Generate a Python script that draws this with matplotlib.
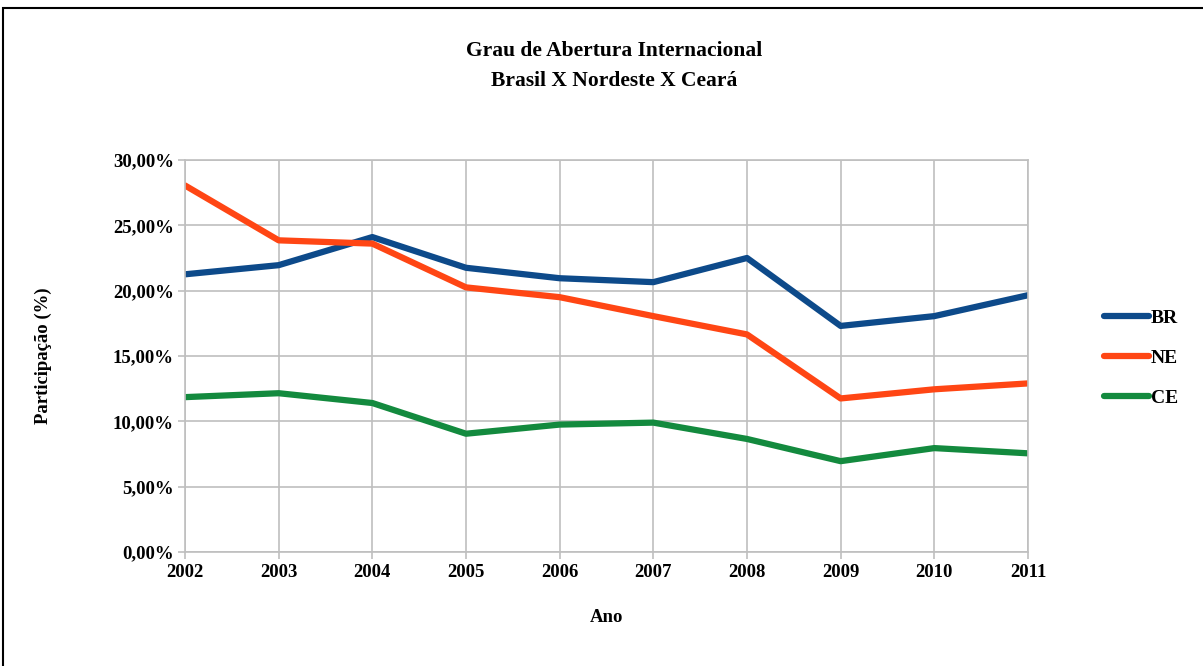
import matplotlib as mpl
import matplotlib.pyplot as plt
from matplotlib.patches import Rectangle
from matplotlib.ticker import FuncFormatter

anos = [2002, 2003, 2004, 2005, 2006, 2007, 2008, 2009, 2010, 2011]
br = [21.25, 21.95, 24.10, 21.75, 20.95, 20.65, 22.50, 17.30, 18.05, 19.65]
ne = [28.05, 23.85, 23.60, 20.25, 19.50, 18.05, 16.65, 11.75, 12.45, 12.90]
ce = [11.85, 12.15, 11.40, 9.05, 9.75, 9.90, 8.65, 6.95, 7.95, 7.55]

mpl.rcParams['font.family'] = 'Liberation Serif'
mpl.rcParams['font.weight'] = 'bold'

fig = plt.figure(figsize=(12.03, 6.66), dpi=100)
ax = fig.add_axes([0.1538, 0.1712, 0.7007, 0.5886])

ax.plot(anos, br, color='#0D4A8A', lw=4.5, label='BR', solid_capstyle='round')
ax.plot(anos, ne, color='#FF4614', lw=4.5, label='NE', solid_capstyle='round')
ax.plot(anos, ce, color='#138A3E', lw=4.5, label='CE', solid_capstyle='round')

ax.set_xlim(2002, 2011)
ax.set_ylim(0, 30)
ax.set_xticks(anos)
ax.set_yticks([0, 5, 10, 15, 20, 25, 30])
ax.yaxis.set_major_formatter(FuncFormatter(lambda v, p: ('%.2f%%' % v).replace('.', ',')))
ax.grid(True, color='#BFBFBF', lw=1.2)
ax.set_axisbelow(True)
for s in ax.spines.values():
    s.set_color('#BFBFBF')
    s.set_linewidth(1.2)
ax.tick_params(axis='both', colors='#BFBFBF', labelcolor='black', labelsize=13.5, length=5, width=1.2)
ax.tick_params(axis='x', pad=4)
ax.tick_params(axis='y', pad=3)
for lbl in ax.get_xticklabels() + ax.get_yticklabels():
    lbl.set_fontweight('bold')

ax.set_xlabel('Ano', fontsize=13.5, fontweight='bold', labelpad=20)
ax.set_ylabel('Participação (%)', fontsize=13.5, fontweight='bold', labelpad=44)

fig.text(0.5107, 0.923, 'Grau de Abertura Internacional', ha='center', va='center', fontsize=15.5, fontweight='bold')
fig.text(0.5107, 0.878, 'Brasil X Nordeste X Ceará', ha='center', va='center', fontsize=15.5, fontweight='bold')

leg = ax.legend(loc='center left', bbox_to_anchor=(1.07, 0.494), frameon=False, fontsize=14,
                handlelength=2.3, handletextpad=0.1, labelspacing=1.15)
for t in leg.get_texts():
    t.set_fontweight('bold')

fig.patches.append(Rectangle((0.0025, -0.05), 1.1, 1.038, transform=fig.transFigure,
                             fill=False, edgecolor='black', lw=1.5))

fig.savefig('out.png', dpi=100)
